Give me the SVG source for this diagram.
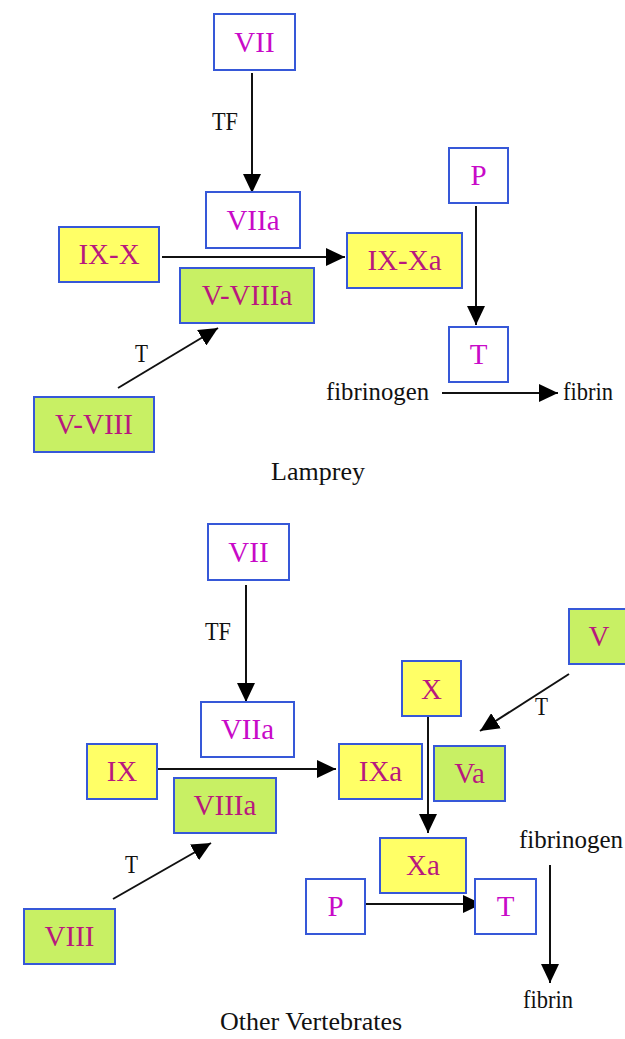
<svg xmlns="http://www.w3.org/2000/svg" width="625" height="1039" viewBox="0 0 625 1039">
<style>
.box{stroke:#3658d8;stroke-width:2}
.w{fill:#ffffff}
.y{fill:#ffff66}
.g{fill:#c8f064}
.lbl{font-family:"Liberation Serif","Times New Roman",serif;font-size:29px;text-anchor:middle}
.lw{fill:#c80ac8}
.lc{fill:#b8187e}
.t{font-family:"Liberation Serif","Times New Roman",serif;fill:#111111}
.el{font-family:"Liberation Serif","Times New Roman",serif;fill:#111111;font-size:26px}
.edge{stroke:#111111;stroke-width:2;fill:none;marker-end:url(#ah)}
</style>
<defs>
<marker id="ah" markerUnits="userSpaceOnUse" markerWidth="19" markerHeight="18" refX="19" refY="9" orient="auto">
<path d="M0,0 L19,9 L0,18 z" fill="#000000"/>
</marker>
</defs>
<rect width="625" height="1039" fill="#ffffff"/>

<g id="connectors">
<line class="edge" x1="252" y1="73" x2="252" y2="193"/>
<line class="edge" x1="162" y1="257" x2="345" y2="257"/>
<line class="edge" x1="118" y1="388" x2="218" y2="328"/>
<line class="edge" x1="476" y1="206" x2="476" y2="325"/>
<line class="edge" x1="442" y1="393" x2="558" y2="393"/>
<line class="edge" x1="246" y1="585" x2="246" y2="702"/>
<line class="edge" x1="154" y1="769" x2="336" y2="769"/>
<line class="edge" x1="113" y1="899" x2="211" y2="843"/>
<line class="edge" x1="569" y1="674" x2="480" y2="731"/>
<line class="edge" x1="428" y1="716" x2="428" y2="833"/>
<line class="edge" x1="365" y1="904" x2="482" y2="904"/>
<line class="edge" x1="550" y1="865" x2="550" y2="983"/>
<text class="el" x="212" y="130" textLength="26" lengthAdjust="spacingAndGlyphs">TF</text>
<text class="el" x="135" y="362" textLength="13" lengthAdjust="spacingAndGlyphs">T</text>
<text class="el" x="205" y="640" textLength="26" lengthAdjust="spacingAndGlyphs">TF</text>
<text class="el" x="125" y="873" textLength="13" lengthAdjust="spacingAndGlyphs">T</text>
<text class="el" x="535" y="715" textLength="13" lengthAdjust="spacingAndGlyphs">T</text>
</g>

<g id="lamprey">
<g id="l-VII"><rect class="box w" x="214" y="14" width="81" height="56"/><text class="lbl lw" x="254.5" y="52">VII</text></g>
<g id="l-VIIa"><rect class="box w" x="206" y="192" width="94" height="56"/><text class="lbl lw" x="253" y="230">VIIa</text></g>
<g id="l-P"><rect class="box w" x="449" y="148" width="59" height="55"/><text class="lbl lw" x="478.5" y="185">P</text></g>
<g id="l-IX-X"><rect class="box y" x="59" y="227" width="100" height="55"/><text class="lbl lc" x="109" y="264">IX-X</text></g>
<g id="l-IX-Xa"><rect class="box y" x="347" y="233" width="115" height="55"/><text class="lbl lc" x="404.5" y="270">IX-Xa</text></g>
<g id="l-V-VIIIa"><rect class="box g" x="180" y="268" width="134" height="55"/><text class="lbl lc" x="247" y="305">V-VIIIa</text></g>
<g id="l-T"><rect class="box w" x="449" y="327" width="59" height="55"/><text class="lbl lw" x="478.5" y="364">T</text></g>
<g id="l-V-VIII"><rect class="box g" x="34" y="397" width="120" height="55"/><text class="lbl lc" x="94" y="434">V-VIII</text></g>
<g id="l-fibrinogen"><text class="t" x="326" y="400" font-size="25" textLength="103" lengthAdjust="spacingAndGlyphs">fibrinogen</text></g>
<g id="l-fibrin"><text class="t" x="563" y="400" font-size="25" textLength="50" lengthAdjust="spacingAndGlyphs">fibrin</text></g>
<text class="t" x="318" y="480" font-size="26" text-anchor="middle">Lamprey</text>
</g>

<g id="vertebrates">
<g id="v-VII"><rect class="box w" x="208" y="524" width="81" height="56"/><text class="lbl lw" x="248.5" y="562">VII</text></g>
<g id="v-VIIa"><rect class="box w" x="201" y="702" width="93" height="55"/><text class="lbl lw" x="247.5" y="739">VIIa</text></g>
<g id="v-V"><rect class="box g" x="569" y="609" width="62" height="55"/><text class="lbl lc" x="599" y="646">V</text></g>
<g id="v-X"><rect class="box y" x="402" y="661" width="59" height="55"/><text class="lbl lc" x="431.5" y="699">X</text></g>
<g id="v-IX"><rect class="box y" x="87" y="744" width="70" height="55"/><text class="lbl lc" x="122" y="781">IX</text></g>
<g id="v-IXa"><rect class="box y" x="339" y="744" width="83" height="55"/><text class="lbl lc" x="380.5" y="781">IXa</text></g>
<g id="v-Va"><rect class="box g" x="434" y="746" width="71" height="55"/><text class="lbl lc" x="469.5" y="783">Va</text></g>
<g id="v-VIIIa"><rect class="box g" x="174" y="778" width="102" height="55"/><text class="lbl lc" x="225" y="815">VIIIa</text></g>
<g id="v-Xa"><rect class="box y" x="380" y="838" width="86" height="55"/><text class="lbl lc" x="423" y="875">Xa</text></g>
<g id="v-P"><rect class="box w" x="306" y="879" width="59" height="55"/><text class="lbl lw" x="335.5" y="916">P</text></g>
<g id="v-T"><rect class="box w" x="475" y="879" width="61" height="55"/><text class="lbl lw" x="505.5" y="916">T</text></g>
<g id="v-VIII"><rect class="box g" x="24" y="909" width="91" height="55"/><text class="lbl lc" x="69.5" y="946">VIII</text></g>
<g id="v-fibrinogen"><text class="t" x="519" y="848" font-size="25" textLength="104" lengthAdjust="spacingAndGlyphs">fibrinogen</text></g>
<g id="v-fibrin"><text class="t" x="523" y="1008" font-size="25" textLength="50" lengthAdjust="spacingAndGlyphs">fibrin</text></g>
<text class="t" x="311" y="1030" font-size="26" text-anchor="middle">Other Vertebrates</text>
</g>
</svg>
